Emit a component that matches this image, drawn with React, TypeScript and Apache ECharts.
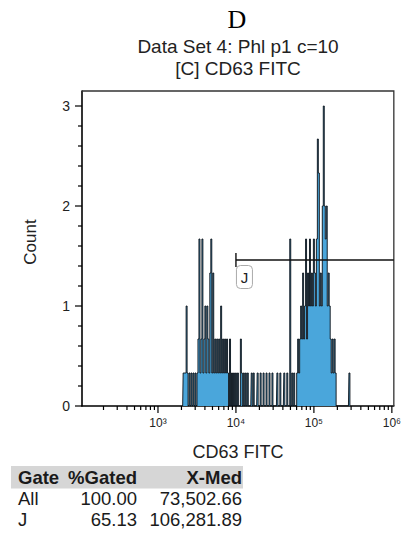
import { useEffect, useRef } from 'react';
import * as echarts from 'echarts';

// ---- texts ----
const panelLetter = 'D';
const titleLines = ['Data Set 4: Phl p1 c=10', '[C] CD63 FITC'];
const xAxisName = 'CD63 FITC';
const yAxisName = 'Count';

// ---- axes ----
const xMin = 106;
const xMax = 1060000;
const yMin = 0;
const yMax = 3.15;
const xMajorTicks = [1000, 10000, 100000, 1000000];
const xTickLabels = ['10³', '10⁴', '10⁵', '10⁶'];
const minorDecades = [100, 1000, 10000, 100000];
const minorMultipliers = [2, 3, 4, 5, 6, 7, 8, 9];
const yMajorTicks = [0, 1, 2, 3];
const yMinorTicks = [0.2, 0.4, 0.6, 0.8, 1.2, 1.4, 1.6, 1.8, 2.2, 2.4, 2.6, 2.8];

// ---- histogram (bin centre in CD63 FITC units, count) ----
const binsPerDecade = 79;
const binValues = [
  2134, 2197, 2262, 2329, 2398, 2542, 2695, 2856, 3028, 3210,
  3305, 3403, 3504, 3607, 3714, 3824, 3938, 4054, 4174, 4298,
  4425, 4557, 4692, 4831, 4968, 5115, 5267, 5422, 5583, 5748,
  5918, 6093, 6273, 6458, 6649, 6846, 7049, 7257, 7472, 7692,
  7920, 8396, 8900, 9434, 10000, 10600, 11570, 11910, 12630, 13390,
  14190, 15950, 16900, 18990, 20730, 22620, 24690, 26950, 29400, 34030,
  37140, 41740, 45570, 49740, 52730, 55900, 61020, 62820, 64690, 66600,
  68580, 70610, 72700, 74850, 77070, 79350, 81700, 84130, 86620, 88990,
  91620, 94340, 97130, 100000, 102960, 106000, 109140, 112370, 115710, 119130,
  122660, 126290, 130020, 133890, 137850, 141910, 146110, 150430, 154870, 159450,
  164170, 169040, 174040, 179190, 184500, 189930, 285630,
];
const binCounts = [
  0.33, 0.33, 0.33, 1.0, 0.33, 0.33, 0.33, 0.33, 0.33, 0.33,
  0.67, 1.67, 0.33, 0.67, 1.67, 0.33, 0.67, 1.0, 0.33, 1.0,
  0.67, 0.33, 1.33, 1.67, 0.33, 1.33, 0.33, 0.67, 0.33, 0.67,
  0.33, 0.67, 0.33, 1.0, 0.33, 0.67, 0.33, 0.67, 0.33, 0.67,
  0.33, 0.67, 0.33, 0.33, 0.33, 0.33, 0.67, 0.33, 0.33, 0.33,
  0.33, 0.33, 0.33, 0.33, 0.33, 0.33, 0.33, 0.33, 0.33, 0.33,
  0.33, 0.33, 0.33, 1.67, 0.33, 0.33, 0.33, 0.67, 0.33, 0.67,
  1.0, 0.67, 1.33, 0.67, 1.0, 1.67, 0.67, 1.33, 1.0, 1.67,
  1.0, 1.33, 1.0, 1.67, 1.33, 1.0, 1.67, 2.67, 2.33, 1.0,
  1.33, 1.0, 2.0, 3.0, 2.0, 1.67, 2.0, 1.0, 1.33, 1.0,
  0.67, 0.33, 0.67, 0.33, 0.67, 0.33, 0.33,
];

// ---- gate ----
const gateName = 'J';
const gateMin = 10000;
const gateMax = 1060000;
const gateLevel = 1.46;

// ---- statistics table ----
const tableHeader = ['Gate', '%Gated', 'X-Med'];
const tableGates = ['All', 'J'];
const tablePctGated = ['100.00', '65.13'];
const tableXMed = ['73,502.66', '106,281.89'];

const FONT = '"Liberation Sans", Arial, sans-serif';

function buildSteps(): number[][] {
  const ratio = Math.pow(10, 1 / binsPerDecade);
  const pts: number[][] = [[binValues[0] / ratio, 0]];
  for (let i = 0; i < binValues.length; i++) {
    const v = binValues[i];
    pts.push([v, binCounts[i]]);
    const next = binValues[i + 1];
    if (next === undefined) {
      pts.push([v * ratio, 0]);
      break;
    }
    const gap = Math.log10(next / v) * binsPerDecade;
    if (gap > 1.5) {
      pts.push([v * ratio, 0]);
      if (gap > 2.5) pts.push([next / ratio, 0]);
    }
  }
  return pts;
}

function buildOption(): any {
  const minorX: number[][] = [];
  minorDecades.forEach((d) => minorMultipliers.forEach((m) => minorX.push([d * m, 0, 4])));
  const xTicks: number[][] = [...xMajorTicks.map((v) => [v, 0, 7]), ...minorX];
  const yTicks: number[][] = [
    ...yMajorTicks.map((v) => [xMin, v, 7]),
    ...yMinorTicks.map((v) => [xMin, v, 4]),
  ];

  const headerY = 477;
  const rowY = [498, 519];
  const colGateX = 18;
  const colPctX = 137;
  const colMedX = 242;
  const tableFont = 18.5;
  const txt = (text: string, x: number, y: number, align: string, bold = false) => ({
    type: 'text', x, y,
    style: {
      text, fontFamily: FONT, fontWeight: bold ? 'bold' : 'normal', fontSize: tableFont, lineHeight: 19,
      fill: '#1a1a1a', textAlign: align, textVerticalAlign: 'middle',
    },
  });

  const graphic: any[] = [
    {
      type: 'text', x: 237, y: 19,
      style: { text: panelLetter, fontFamily: '"Liberation Serif", "Times New Roman", serif', fontSize: 26, lineHeight: 26, fill: '#000', textAlign: 'center', textVerticalAlign: 'middle' },
    },
    ...titleLines.map((t, i) => ({
      type: 'text', x: 238, y: 46.5 + i * 21.5,
      style: { text: t, fontFamily: FONT, fontSize: 19, lineHeight: 19, fill: '#222', textAlign: 'center', textVerticalAlign: 'middle' },
    })),
    {
      type: 'text', x: 30, y: 242, rotation: Math.PI / 2,
      style: { text: yAxisName, fontFamily: FONT, fontSize: 17, lineHeight: 17, fill: '#222', textAlign: 'center', textVerticalAlign: 'middle' },
    },
    { type: 'rect', shape: { x: 11, y: 466, width: 232, height: 22.5 }, style: { fill: '#d6d6d6' }, z: 0 },
    txt(tableHeader[0], colGateX, headerY, 'left', true),
    txt(tableHeader[1], colPctX, headerY, 'right', true),
    txt(tableHeader[2], colMedX, headerY, 'right', true),
  ];
  tableGates.forEach((g, i) => {
    graphic.push(
      txt(g, colGateX, rowY[i], 'left'),
      txt(tablePctGated[i], colPctX, rowY[i], 'right'),
      txt(tableXMed[i], colMedX, rowY[i], 'right'),
    );
  });

  return {
    animation: false,
    backgroundColor: '#fff',
    textStyle: { fontFamily: FONT },
    grid: { left: 82, right: 7, top: 91, bottom: 131, containLabel: false },
    xAxis: {
      type: 'log', logBase: 10, min: xMin, max: xMax,
      axisLine: { show: true, onZero: false, lineStyle: { color: '#000', width: 1.6 } },
      axisTick: { show: false },
      splitLine: { show: false },
      axisLabel: {
        fontSize: 12, color: '#222', margin: 11,
        formatter: (v: number) => {
          const idx = xMajorTicks.findIndex((t) => Math.abs(t - v) / t < 1e-6);
          return idx >= 0 ? xTickLabels[idx] : '';
        },
      },
      name: xAxisName, nameLocation: 'middle', nameGap: 37,
      nameTextStyle: { fontSize: 18, color: '#222', fontFamily: FONT },
    },
    yAxis: {
      type: 'value', min: yMin, max: yMax, interval: 1,
      axisLine: { show: true, onZero: false, lineStyle: { color: '#000', width: 1.6 } },
      axisTick: { show: false },
      minorTick: { show: false },
      splitLine: { show: false },
      axisLabel: {
        fontSize: 14, color: '#222', margin: 12,
        formatter: (v: number) => (Number.isInteger(v) ? String(v) : ''),
      },
    },
    series: [
      {
        type: 'custom', name: 'frame', data: [[xMin, yMax, xMax, yMin]], silent: true, z: 1,
        renderItem: (_p: any, api: any) => {
          const tl = api.coord([api.value(0), api.value(1)]);
          const br = api.coord([api.value(2), api.value(3)]);
          return {
            type: 'polyline',
            shape: { points: [[tl[0], tl[1]], [br[0], tl[1]], [br[0], br[1]]] },
            style: { stroke: '#333', lineWidth: 1.3, fill: null },
          };
        },
      },
      {
        type: 'line', name: 'CD63 FITC histogram', step: 'middle', symbol: 'none',
        data: buildSteps(),
        lineStyle: { color: 'rgba(10,16,22,0.9)', width: 1 },
        areaStyle: { color: '#4aa6db', opacity: 1 },
        z: 3,
      },
      {
        type: 'custom', name: 'xTicks', data: xTicks, silent: true, z: 4,
        renderItem: (_p: any, api: any) => {
          const p = api.coord([api.value(0), api.value(1)]);
          const len = api.value(2);
          return { type: 'line', shape: { x1: p[0], y1: p[1], x2: p[0], y2: p[1] + len }, style: { stroke: '#000', lineWidth: 1.2 } };
        },
      },
      {
        type: 'custom', name: 'yTicks', data: yTicks, silent: true, z: 4,
        renderItem: (_p: any, api: any) => {
          const p = api.coord([api.value(0), api.value(1)]);
          const len = api.value(2);
          return { type: 'line', shape: { x1: p[0] - len, y1: p[1], x2: p[0], y2: p[1] }, style: { stroke: '#000', lineWidth: 1.2 } };
        },
      },
      {
        type: 'custom', name: 'gate', data: [[gateMin, gateLevel, gateMax]], silent: true, z: 5,
        renderItem: (_p: any, api: any) => {
          const a = api.coord([api.value(0), api.value(1)]);
          const b = api.coord([api.value(2), api.value(1)]);
          return {
            type: 'group',
            children: [
              { type: 'line', shape: { x1: a[0], y1: a[1], x2: b[0], y2: b[1] }, style: { stroke: '#111', lineWidth: 1.4 } },
              { type: 'line', shape: { x1: a[0], y1: a[1] - 7, x2: a[0], y2: a[1] + 7 }, style: { stroke: '#111', lineWidth: 1.4 } },
              { type: 'rect', shape: { x: a[0] + 0.5, y: a[1] + 5.5, width: 16, height: 23, r: 4 }, style: { fill: '#fff', stroke: '#aaa', lineWidth: 1 } },
              { type: 'text', x: a[0] + 8.5, y: a[1] + 17.5, style: { text: gateName, fontFamily: FONT, fontSize: 15, fill: '#222', textAlign: 'center', textVerticalAlign: 'middle' } },
            ],
          };
        },
      },
    ],
    graphic,
  };
}

export default function App() {
  const ref = useRef<HTMLDivElement>(null);
  useEffect(() => {
    const chart = echarts.init(ref.current!, undefined, { renderer: 'svg' });
    chart.setOption(buildOption());
    return () => chart.dispose();
  }, []);
  return (
    <div
      ref={ref}
      style={{ position: 'fixed', left: 0, top: 0, width: 404, height: 537, background: '#fff' }}
    />
  );
}
